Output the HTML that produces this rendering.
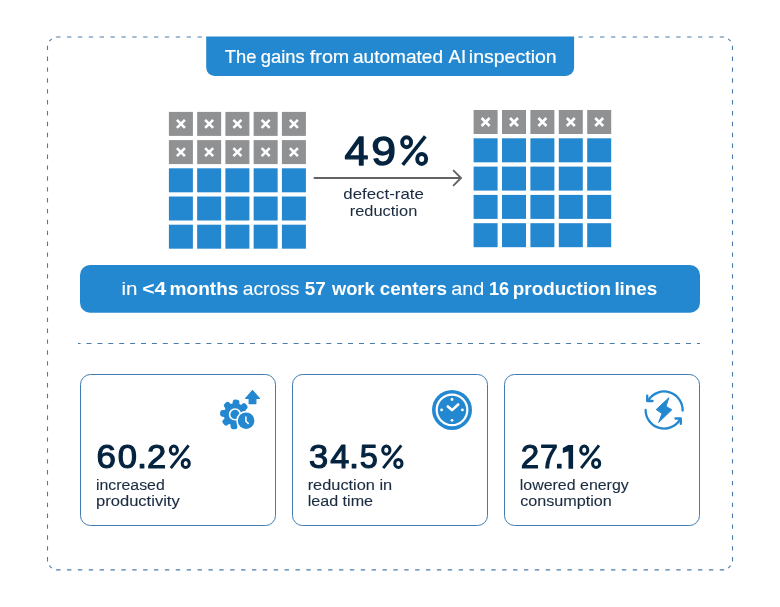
<!DOCTYPE html>
<html><head><meta charset="utf-8">
<style>
html,body{margin:0;padding:0;background:#fff;width:780px;height:607px;overflow:hidden;}
svg{display:block;position:absolute;left:0;top:0;will-change:transform;}
text{font-family:"Liberation Sans",sans-serif;}
</style></head>
<body>
<svg width="780" height="607" viewBox="0 0 780 607">
<path d="M56.1 37.0 H205 M56.1 569.9 H726" fill="none" stroke="#4a7cab" stroke-width="1.1" stroke-dasharray="4.4 6.48"/>
<path d="M578.3 37.0 H726" fill="none" stroke="#4a7cab" stroke-width="1.1" stroke-dasharray="4.4 6.48"/>
<path d="M47.5 45.7 V563 M732.5 45.7 V563" fill="none" stroke="#4a7cab" stroke-width="1.1" stroke-dasharray="4.4 6.48"/>
<path d="M49.3 41.2 L51.8 38.8 M728.2 38.8 L730.7 41.2 M49.3 565.7 L51.8 568.1 M728.2 568.1 L730.7 565.7" fill="none" stroke="#4a7cab" stroke-width="1.1"/>
<path d="M206.2 36.4 H574.1 V67.6 A8.5 8.5 0 0 1 565.6 76.1 H214.7 A8.5 8.5 0 0 1 206.2 67.6 Z" fill="#2488d0"/>
<text transform="translate(224.789 62.500) scale(1.0229 1)" font-size="18.000" fill="#fff" stroke="#fff" stroke-width="0.20" stroke-linejoin="round">The</text>
<text transform="translate(260.830 62.500) scale(1.0209 1)" font-size="18.000" fill="#fff" stroke="#fff" stroke-width="0.20" stroke-linejoin="round">gains</text>
<text transform="translate(309.830 62.500) scale(1.0961 1)" font-size="18.000" fill="#fff" stroke="#fff" stroke-width="0.20" stroke-linejoin="round">from</text>
<text transform="translate(352.996 62.500) scale(1.0596 1)" font-size="18.000" fill="#fff" stroke="#fff" stroke-width="0.20" stroke-linejoin="round">automated</text>
<text transform="translate(448.567 62.500) scale(1.0316 1)" font-size="18.000" fill="#fff" stroke="#fff" stroke-width="0.20" stroke-linejoin="round">AI</text>
<text transform="translate(468.802 62.500) scale(1.0852 1)" font-size="18.000" fill="#fff" stroke="#fff" stroke-width="0.20" stroke-linejoin="round">inspection</text>
<rect x="168.90" y="111.90" width="24" height="24" fill="#8f9193"/>
<path d="M176.90 119.90 L184.90 127.90 M184.90 119.90 L176.90 127.90" stroke="#fff" stroke-width="2.6"/>
<rect x="197.15" y="111.90" width="24" height="24" fill="#8f9193"/>
<path d="M205.15 119.90 L213.15 127.90 M213.15 119.90 L205.15 127.90" stroke="#fff" stroke-width="2.6"/>
<rect x="225.40" y="111.90" width="24" height="24" fill="#8f9193"/>
<path d="M233.40 119.90 L241.40 127.90 M241.40 119.90 L233.40 127.90" stroke="#fff" stroke-width="2.6"/>
<rect x="253.65" y="111.90" width="24" height="24" fill="#8f9193"/>
<path d="M261.65 119.90 L269.65 127.90 M269.65 119.90 L261.65 127.90" stroke="#fff" stroke-width="2.6"/>
<rect x="281.90" y="111.90" width="24" height="24" fill="#8f9193"/>
<path d="M289.90 119.90 L297.90 127.90 M297.90 119.90 L289.90 127.90" stroke="#fff" stroke-width="2.6"/>
<rect x="168.90" y="140.10" width="24" height="24" fill="#8f9193"/>
<path d="M176.90 148.10 L184.90 156.10 M184.90 148.10 L176.90 156.10" stroke="#fff" stroke-width="2.6"/>
<rect x="197.15" y="140.10" width="24" height="24" fill="#8f9193"/>
<path d="M205.15 148.10 L213.15 156.10 M213.15 148.10 L205.15 156.10" stroke="#fff" stroke-width="2.6"/>
<rect x="225.40" y="140.10" width="24" height="24" fill="#8f9193"/>
<path d="M233.40 148.10 L241.40 156.10 M241.40 148.10 L233.40 156.10" stroke="#fff" stroke-width="2.6"/>
<rect x="253.65" y="140.10" width="24" height="24" fill="#8f9193"/>
<path d="M261.65 148.10 L269.65 156.10 M269.65 148.10 L261.65 156.10" stroke="#fff" stroke-width="2.6"/>
<rect x="281.90" y="140.10" width="24" height="24" fill="#8f9193"/>
<path d="M289.90 148.10 L297.90 156.10 M297.90 148.10 L289.90 156.10" stroke="#fff" stroke-width="2.6"/>
<rect x="168.90" y="168.30" width="24" height="24" fill="#2488d0"/>
<rect x="197.15" y="168.30" width="24" height="24" fill="#2488d0"/>
<rect x="225.40" y="168.30" width="24" height="24" fill="#2488d0"/>
<rect x="253.65" y="168.30" width="24" height="24" fill="#2488d0"/>
<rect x="281.90" y="168.30" width="24" height="24" fill="#2488d0"/>
<rect x="168.90" y="196.50" width="24" height="24" fill="#2488d0"/>
<rect x="197.15" y="196.50" width="24" height="24" fill="#2488d0"/>
<rect x="225.40" y="196.50" width="24" height="24" fill="#2488d0"/>
<rect x="253.65" y="196.50" width="24" height="24" fill="#2488d0"/>
<rect x="281.90" y="196.50" width="24" height="24" fill="#2488d0"/>
<rect x="168.90" y="224.70" width="24" height="24" fill="#2488d0"/>
<rect x="197.15" y="224.70" width="24" height="24" fill="#2488d0"/>
<rect x="225.40" y="224.70" width="24" height="24" fill="#2488d0"/>
<rect x="253.65" y="224.70" width="24" height="24" fill="#2488d0"/>
<rect x="281.90" y="224.70" width="24" height="24" fill="#2488d0"/>
<rect x="473.60" y="110.00" width="24" height="24" fill="#8f9193"/>
<path d="M481.60 118.00 L489.60 126.00 M489.60 118.00 L481.60 126.00" stroke="#fff" stroke-width="2.6"/>
<rect x="502.00" y="110.00" width="24" height="24" fill="#8f9193"/>
<path d="M510.00 118.00 L518.00 126.00 M518.00 118.00 L510.00 126.00" stroke="#fff" stroke-width="2.6"/>
<rect x="530.40" y="110.00" width="24" height="24" fill="#8f9193"/>
<path d="M538.40 118.00 L546.40 126.00 M546.40 118.00 L538.40 126.00" stroke="#fff" stroke-width="2.6"/>
<rect x="558.80" y="110.00" width="24" height="24" fill="#8f9193"/>
<path d="M566.80 118.00 L574.80 126.00 M574.80 118.00 L566.80 126.00" stroke="#fff" stroke-width="2.6"/>
<rect x="587.20" y="110.00" width="24" height="24" fill="#8f9193"/>
<path d="M595.20 118.00 L603.20 126.00 M603.20 118.00 L595.20 126.00" stroke="#fff" stroke-width="2.6"/>
<rect x="473.60" y="138.30" width="24" height="24" fill="#2488d0"/>
<rect x="502.00" y="138.30" width="24" height="24" fill="#2488d0"/>
<rect x="530.40" y="138.30" width="24" height="24" fill="#2488d0"/>
<rect x="558.80" y="138.30" width="24" height="24" fill="#2488d0"/>
<rect x="587.20" y="138.30" width="24" height="24" fill="#2488d0"/>
<rect x="473.60" y="166.60" width="24" height="24" fill="#2488d0"/>
<rect x="502.00" y="166.60" width="24" height="24" fill="#2488d0"/>
<rect x="530.40" y="166.60" width="24" height="24" fill="#2488d0"/>
<rect x="558.80" y="166.60" width="24" height="24" fill="#2488d0"/>
<rect x="587.20" y="166.60" width="24" height="24" fill="#2488d0"/>
<rect x="473.60" y="194.90" width="24" height="24" fill="#2488d0"/>
<rect x="502.00" y="194.90" width="24" height="24" fill="#2488d0"/>
<rect x="530.40" y="194.90" width="24" height="24" fill="#2488d0"/>
<rect x="558.80" y="194.90" width="24" height="24" fill="#2488d0"/>
<rect x="587.20" y="194.90" width="24" height="24" fill="#2488d0"/>
<rect x="473.60" y="223.20" width="24" height="24" fill="#2488d0"/>
<rect x="502.00" y="223.20" width="24" height="24" fill="#2488d0"/>
<rect x="530.40" y="223.20" width="24" height="24" fill="#2488d0"/>
<rect x="558.80" y="223.20" width="24" height="24" fill="#2488d0"/>
<rect x="587.20" y="223.20" width="24" height="24" fill="#2488d0"/>
<text transform="translate(344.589 164.950) scale(1.0452 1)" font-size="41.280" fill="#04233f" stroke="#04233f" stroke-width="1.30" stroke-linejoin="round">4</text>
<text transform="translate(371.212 164.950) scale(1.0801 1)" font-size="41.280" fill="#04233f" stroke="#04233f" stroke-width="1.30" stroke-linejoin="round">9</text>
<ellipse cx="406.62" cy="142.26" rx="4.47" ry="5.01" fill="none" stroke="#04233f" stroke-width="3.9"/>
<ellipse cx="421.68" cy="158.94" rx="4.47" ry="5.01" fill="none" stroke="#04233f" stroke-width="3.9"/>
<line x1="402.71" y1="164.83" x2="425.31" y2="136.37" stroke="#04233f" stroke-width="3.6"/>
<line x1="313.7" y1="178.0" x2="461.0" y2="178.0" stroke="#636363" stroke-width="1.8"/>
<path d="M453.6 170.6 L461.0 178.0 L453.6 185.4" fill="none" stroke="#636363" stroke-width="1.9" stroke-linecap="round"/>
<text transform="translate(343.322 199.300) scale(1.2043 1)" font-size="14.000" fill="#1b2c40" stroke="#1b2c40" stroke-width="0.05" stroke-linejoin="round">defect-rate</text>
<text transform="translate(349.738 216.000) scale(1.1738 1)" font-size="14.000" fill="#1b2c40" stroke="#1b2c40" stroke-width="0.05" stroke-linejoin="round">reduction</text>
<rect x="80" y="265" width="620" height="47.8" rx="10" ry="10" fill="#2488d0"/>
<text transform="translate(121.482 295.300) scale(1.1417 1)" font-size="18.000" fill="#fff" stroke="#fff" stroke-width="0.10" stroke-linejoin="round">in</text>
<text transform="translate(142.212 295.300) scale(1.1744 1)" font-size="18.000" font-weight="bold" fill="#fff">&lt;4</text>
<text transform="translate(169.541 295.300) scale(1.0607 1)" font-size="18.000" font-weight="bold" fill="#fff">months</text>
<text transform="translate(242.734 295.300) scale(1.0716 1)" font-size="18.000" fill="#fff" stroke="#fff" stroke-width="0.10" stroke-linejoin="round">across</text>
<text transform="translate(304.819 295.300) scale(1.0494 1)" font-size="18.000" font-weight="bold" fill="#fff">57</text>
<text transform="translate(331.954 295.300) scale(1.0147 1)" font-size="18.000" font-weight="bold" fill="#fff">work</text>
<text transform="translate(379.661 295.300) scale(1.0512 1)" font-size="18.000" font-weight="bold" fill="#fff">centers</text>
<text transform="translate(451.315 295.300) scale(1.0990 1)" font-size="18.000" fill="#fff" stroke="#fff" stroke-width="0.10" stroke-linejoin="round">and</text>
<text transform="translate(488.956 295.300) scale(1.0089 1)" font-size="18.000" font-weight="bold" fill="#fff">16</text>
<text transform="translate(512.859 295.300) scale(1.0460 1)" font-size="18.000" font-weight="bold" fill="#fff">production</text>
<text transform="translate(614.383 295.300) scale(1.0481 1)" font-size="18.000" font-weight="bold" fill="#fff">lines</text>
<line x1="78" y1="343.5" x2="700" y2="343.5" stroke="#4a7cab" stroke-width="1" stroke-dasharray="5 5.9" stroke-dashoffset="2.4"/>
<rect x="80.5" y="374.5" width="195" height="151" rx="10" ry="10" fill="none" stroke="#3f7ab2" stroke-width="1"/>
<rect x="292.5" y="374.5" width="195" height="151" rx="10" ry="10" fill="none" stroke="#3f7ab2" stroke-width="1"/>
<rect x="504.5" y="374.5" width="195" height="151" rx="10" ry="10" fill="none" stroke="#3f7ab2" stroke-width="1"/>
<text transform="translate(96.619 468.150) scale(1.0775 1)" font-size="32.413" fill="#04233f" stroke="#04233f" stroke-width="1.10" stroke-linejoin="round">6</text>
<text transform="translate(117.736 468.150) scale(1.0666 1)" font-size="32.413" fill="#04233f" stroke="#04233f" stroke-width="1.10" stroke-linejoin="round">0</text>
<text transform="translate(136.957 468.150) scale(1.1200 1)" font-size="32.413" fill="#04233f" stroke="#04233f" stroke-width="1.10" stroke-linejoin="round">.</text>
<text transform="translate(146.949 468.150) scale(1.0651 1)" font-size="32.413" fill="#04233f" stroke="#04233f" stroke-width="1.10" stroke-linejoin="round">2</text>
<ellipse cx="173.86" cy="450.15" rx="3.56" ry="4.05" fill="none" stroke="#04233f" stroke-width="3.0"/>
<ellipse cx="185.74" cy="463.45" rx="3.56" ry="4.05" fill="none" stroke="#04233f" stroke-width="3.0"/>
<line x1="170.78" y1="468.14" x2="188.60" y2="445.46" stroke="#04233f" stroke-width="2.9"/>
<text transform="translate(309.073 468.150) scale(1.0627 1)" font-size="32.413" fill="#04233f" stroke="#04233f" stroke-width="1.10" stroke-linejoin="round">3</text>
<text transform="translate(330.195 468.150) scale(1.0555 1)" font-size="32.413" fill="#04233f" stroke="#04233f" stroke-width="1.10" stroke-linejoin="round">4</text>
<text transform="translate(349.007 468.150) scale(1.1200 1)" font-size="32.413" fill="#04233f" stroke="#04233f" stroke-width="1.10" stroke-linejoin="round">.</text>
<text transform="translate(359.651 468.150) scale(1.0020 1)" font-size="32.413" fill="#04233f" stroke="#04233f" stroke-width="1.10" stroke-linejoin="round">5</text>
<ellipse cx="386.33" cy="450.15" rx="3.63" ry="4.05" fill="none" stroke="#04233f" stroke-width="3.0"/>
<ellipse cx="398.37" cy="463.45" rx="3.63" ry="4.05" fill="none" stroke="#04233f" stroke-width="3.0"/>
<line x1="383.21" y1="468.14" x2="401.27" y2="445.46" stroke="#04233f" stroke-width="2.9"/>
<text transform="translate(520.797 468.150) scale(1.0210 1)" font-size="32.413" fill="#04233f" stroke="#04233f" stroke-width="1.10" stroke-linejoin="round">2</text>
<text transform="translate(540.098 468.150) scale(0.9915 1)" font-size="32.413" fill="#04233f" stroke="#04233f" stroke-width="1.10" stroke-linejoin="round">7</text>
<text transform="translate(554.157 468.150) scale(1.1200 1)" font-size="32.413" fill="#04233f" stroke="#04233f" stroke-width="1.10" stroke-linejoin="round">.</text>
<ellipse cx="584.26" cy="450.15" rx="3.56" ry="4.05" fill="none" stroke="#04233f" stroke-width="3.0"/>
<ellipse cx="596.14" cy="463.45" rx="3.56" ry="4.05" fill="none" stroke="#04233f" stroke-width="3.0"/>
<line x1="581.18" y1="468.14" x2="599.00" y2="445.46" stroke="#04233f" stroke-width="2.9"/>
<path d="M568.2 445.0 H573.1 V468.7 H568.5 V451.2 L562.8 453.0 V448.0 Z" fill="#04233f"/>
<text transform="translate(96.001 489.600) scale(1.0231 1)" font-size="15.500" fill="#1b2c40" stroke="#1b2c40" stroke-width="0.12" stroke-linejoin="round">increased</text>
<text transform="translate(95.997 506.000) scale(1.0686 1)" font-size="15.500" fill="#1b2c40" stroke="#1b2c40" stroke-width="0.12" stroke-linejoin="round">productivity</text>
<text transform="translate(307.676 489.600) scale(1.0560 1)" font-size="15.500" fill="#1b2c40" stroke="#1b2c40" stroke-width="0.12" stroke-linejoin="round">reduction in</text>
<text transform="translate(307.677 506.000) scale(1.0395 1)" font-size="15.500" fill="#1b2c40" stroke="#1b2c40" stroke-width="0.12" stroke-linejoin="round">lead time</text>
<text transform="translate(519.788 489.600) scale(1.0283 1)" font-size="15.500" fill="#1b2c40" stroke="#1b2c40" stroke-width="0.12" stroke-linejoin="round">lowered energy</text>
<text transform="translate(520.175 506.000) scale(1.0436 1)" font-size="15.500" fill="#1b2c40" stroke="#1b2c40" stroke-width="0.12" stroke-linejoin="round">consumption</text>
<!-- icon 1: gear + clock + arrow -->
<path d="M252.5 390.6 L259.3 398.4 H255.8 V403.6 H249.2 V398.4 H245.7 Z" fill="#2488d0" stroke="#2488d0" stroke-width="1.3" stroke-linejoin="round"/>
<g transform="translate(235.0 414.4)" fill="#2488d0">
  <circle r="11.2"/>
  <rect x="-3.4" y="-14.9" width="6.8" height="7" rx="2.4" transform="rotate(5)"/>
  <rect x="-3.4" y="-14.9" width="6.8" height="7" rx="2.4" transform="rotate(50)"/>
  <rect x="-3.4" y="-14.9" width="6.8" height="7" rx="2.4" transform="rotate(95)"/>
  <rect x="-3.4" y="-14.9" width="6.8" height="7" rx="2.4" transform="rotate(140)"/>
  <rect x="-3.4" y="-14.9" width="6.8" height="7" rx="2.4" transform="rotate(185)"/>
  <rect x="-3.4" y="-14.9" width="6.8" height="7" rx="2.4" transform="rotate(230)"/>
  <rect x="-3.4" y="-14.9" width="6.8" height="7" rx="2.4" transform="rotate(275)"/>
  <rect x="-3.4" y="-14.9" width="6.8" height="7" rx="2.4" transform="rotate(320)"/>
  <circle r="5.4" fill="none" stroke="#fff" stroke-width="1.6"/>
</g>
<circle cx="246.1" cy="420.7" r="9.9" fill="#fff"/>
<circle cx="246.1" cy="420.7" r="8.3" fill="#2488d0"/>
<path d="M245.9 416.9 V421.3 L248.2 423.4" fill="none" stroke="#fff" stroke-width="1.5" stroke-linecap="round" stroke-linejoin="round"/>

<!-- icon 2: clock -->
<g transform="translate(452 409.9)">
  <circle r="20" fill="#2488d0"/>
  <circle r="15.3" fill="none" stroke="#fff" stroke-width="2.2"/>
  <circle cx="0" cy="-10.4" r="1.4" fill="#fff"/>
  <circle cx="0" cy="10.4" r="1.4" fill="#fff"/>
  <circle cx="-10.4" cy="0" r="1.4" fill="#fff"/>
  <circle cx="10.4" cy="0" r="1.4" fill="#fff"/>
  <path d="M-4.2 -3.4 L0 0.2 L6.2 -5.4" fill="none" stroke="#fff" stroke-width="2.6" stroke-linecap="round" stroke-linejoin="round"/>
</g>

<!-- icon 3: energy -->
<g fill="none" stroke="#2488d0" stroke-width="2.3" stroke-linecap="round" stroke-linejoin="round">
  <path d="M648.6 399.9 A18.5 18.5 0 0 1 682.6 410.6"/>
  <path d="M645.6 410 A18.5 18.5 0 0 0 680.1 419.3"/>
  <path d="M647.2 395.6 L647.2 401.0 L652.6 401.0"/>
  <path d="M675.5 418.5 L680.8 418.5 L680.8 423.9"/>
</g>
<path d="M668.9 397.7 L656.2 409.6 L662.0 413.5 L658.6 422.5 L671.8 409.8 L666.0 406.4 Z" fill="#2488d0" stroke="#2488d0" stroke-width="1" stroke-linejoin="round"/>

</svg>
</body></html>
